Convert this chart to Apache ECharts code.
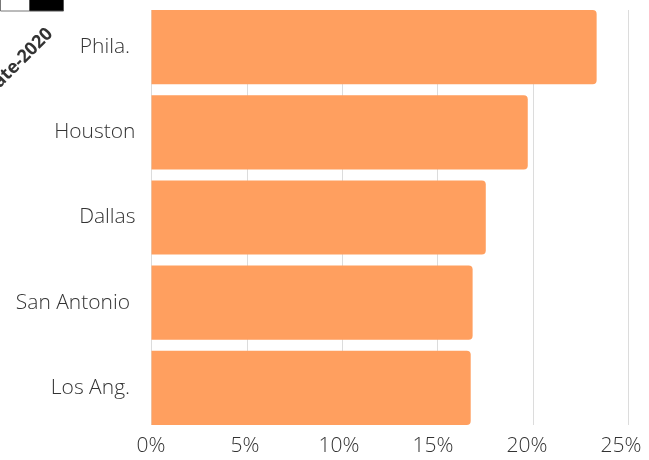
<!DOCTYPE html>
<html><head><meta charset="utf-8">
<script src="https://cdn.jsdelivr.net/npm/echarts@6/dist/echarts.min.js"></script>
<style>html,body{margin:0;padding:0;background:#fff}#c{width:649px;height:460px}</style>
</head><body><div id="c"></div><script>
const categories = ['Phila. ', 'Houston', 'Dallas', 'San Antonio ', 'Los Ang. '];
const values = [23.33, 19.72, 17.52, 16.83, 16.73];
const tickLabels = ['0%', '5%', '10%', '15%', '20%', '25%'];
const cornerLabel = 'Rate-2020';

const FONT = '"Open Sans", "Noto Sans", sans-serif';
const chart = echarts.init(document.getElementById('c'), null, {renderer: 'canvas'});
chart.setOption({
  animation: false,
  backgroundColor: '#fff',
  grid: [
    {left: 151.5, right: 20.5, top: 4.5, height: 426},
    {left: 151.5, right: 20.5, top: 10, height: 415},
    {left: 151, right: 28, top: 10, height: 415}
  ],
  xAxis: [
    {gridIndex: 0, type: 'value', min: 0, max: 25, show: false},
    {gridIndex: 1, type: 'value', min: 0, max: 25, interval: 5,
     axisLine: {show: false}, axisTick: {show: false}, axisLabel: {show: false},
     splitLine: {show: true, lineStyle: {color: '#dcdcdc', width: 1}}},
    {gridIndex: 2, type: 'value', min: 0, max: 25, interval: 5,
     axisLine: {show: false}, axisTick: {show: false}, splitLine: {show: false},
     axisLabel: {show: true, margin: 11, fontSize: 21, fontWeight: 300, fontFamily: FONT, color: '#333',
       formatter: function (v) { return tickLabels[Math.round(v / 5)]; }}}
  ],
  yAxis: [
    {gridIndex: 0, type: 'category', data: categories, inverse: true,
     axisLine: {show: false}, axisTick: {show: false}, splitLine: {show: false},
     axisLabel: {margin: 16, fontSize: 21, fontWeight: 300, fontFamily: FONT, color: '#333'}},
    {gridIndex: 1, type: 'value', show: false},
    {gridIndex: 2, type: 'value', show: false}
  ],
  series: [{
    type: 'bar', xAxisIndex: 0, yAxisIndex: 0, data: values,
    barCategoryGap: '12.9%',
    itemStyle: {color: '#FF9F5F', borderRadius: [0, 4, 4, 0]}
  }],
  graphic: [
    {type: 'rect', shape: {x: 0.5, y: -1, width: 29, height: 12}, style: {fill: '#fff', stroke: '#777', lineWidth: 1}},
    {type: 'rect', shape: {x: 29.5, y: -1, width: 34, height: 12}, style: {fill: '#000', stroke: '#555', lineWidth: 1}},
    {type: 'text', x: 50, y: 31, rotation: Math.PI / 4,
     style: {text: cornerLabel, align: 'right', verticalAlign: 'middle', fill: '#333',
       font: 'bold 18px "Open Sans", sans-serif'}}
  ]
});
</script></body></html>
